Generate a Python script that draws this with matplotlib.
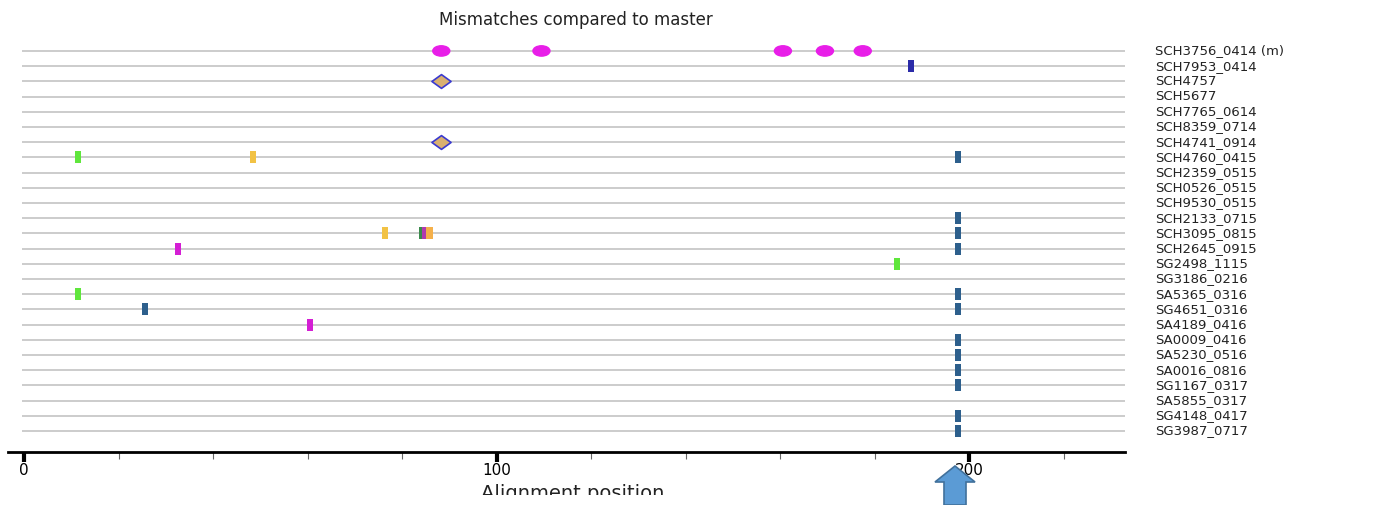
import numpy as np
import matplotlib
matplotlib.use('Agg')
import matplotlib.pyplot as plt
from matplotlib.patches import Ellipse, FancyArrow
from matplotlib.path import Path
from matplotlib.transforms import IdentityTransform, Bbox

# Stammer (rader ovenfra og ned)
strains = ['SCH3756_0414 (m)', 'SCH7953_0414', 'SCH4757', 'SCH5677', 'SCH7765_0614',
           'SCH8359_0714', 'SCH4741_0914', 'SCH4760_0415', 'SCH2359_0515', 'SCH0526_0515',
           'SCH9530_0515', 'SCH2133_0715', 'SCH3095_0815', 'SCH2645_0915', 'SG2498_1115',
           'SG3186_0216', 'SA5365_0316', 'SG4651_0316', 'SA4189_0416', 'SA0009_0416',
           'SA5230_0516', 'SA0016_0816', 'SG1167_0317', 'SA5855_0317', 'SG4148_0417',
           'SG3987_0717']

# Ellipser (master-rad)
ell_row = [0, 0, 0, 0, 0]
ell_pos = [88.3, 109.5, 160.6, 169.5, 177.5]

# Ruter (diamanter)
dia_row = [2, 6]
dia_pos = [88.3, 88.3]

# Streker: (rad, posisjon, farge)
bar_row = [1, 7, 7, 7, 11, 12, 12, 12, 12, 12, 13, 13, 14, 16, 16, 17, 17, 18,
           19, 20, 21, 22, 24, 25]
bar_pos = [187.7, 11.4, 48.5, 197.7, 197.7, 76.3, 84.2, 84.9, 85.8, 197.7, 32.6, 197.7,
           184.7, 11.4, 197.7, 25.6, 197.7, 60.6, 197.7, 197.7, 197.7, 197.7, 197.7, 197.7]
bar_col = ['#2b2ba8', '#5fe63c', '#f2c244', '#2d5f8c', '#2d5f8c', '#f2c244', '#3b8a4c',
           '#b03ab0', '#f5b04a', '#2d5f8c', '#d41ed4', '#2d5f8c', '#5fe63c', '#5fe63c',
           '#2d5f8c', '#2d5f8c', '#2d5f8c', '#d41ed4', '#2d5f8c', '#2d5f8c', '#2d5f8c',
           '#2d5f8c', '#2d5f8c', '#2d5f8c']

W, H = 1385, 505
fig = plt.figure(figsize=(W / 100, H / 100), dpi=100)
ax = fig.add_axes([8 / W, 1 - 452 / H, (1125 - 8) / W, (452 - 40) / H])

n = len(strains)
ax.set_xlim(-3.4, 233)
ax.set_ylim(n + 0.38, -0.72)

# Rader
ax.hlines(np.arange(n), -0.5, 233, color='#c8c8c8', lw=1.3, zorder=1)

# Streker
ax.bar(bar_pos, 0.78, bottom=np.array(bar_row) - 0.39, width=1.3, color=bar_col, zorder=3)

# Ellipser
for r, p in zip(ell_row, ell_pos):
    ax.add_patch(Ellipse((p, r), 3.6, 0.68, color='#e81ee8', zorder=3))

# Diamanter
diamond = Path([(-1, 0), (0, 0.72), (1, 0), (0, -0.72), (-1, 0)],
               [Path.MOVETO, Path.LINETO, Path.LINETO, Path.LINETO, Path.CLOSEPOLY])
ax.scatter(dia_pos, dia_row, marker=diamond, s=190, facecolor='#d9b070',
           edgecolor='#3a3ad0', linewidth=1.2, zorder=3)

# Etiketter til hoyre
for i, s in enumerate(strains):
    fig.text(1155 / W, 1 - (51 + 15.2 * i) / H, s, fontsize=9.5, color='#222222',
             va='center', ha='left')

# Akser
for sp in ['top', 'right', 'left']:
    ax.spines[sp].set_visible(False)
ax.spines['bottom'].set_linewidth(2)
ax.set_yticks([])
ax.set_xticks([0, 100, 200])
ax.set_xticks(np.arange(20, 233, 20), minor=True)
ax.tick_params(axis='x', which='major', length=7, width=3, labelsize=11, pad=1)
ax.tick_params(axis='x', which='minor', length=5, width=0.8, color='#666666')

fig.text(576 / W, 1 - 20 / H, 'Mismatches compared to master', ha='center', va='center',
         fontsize=12, color='#222222')
xl = fig.text(573 / W, 1 - 484 / H, 'Alignment position', ha='center', va='top',
              fontsize=14, color='#222222')
xl.set_clip_box(Bbox([[0, H - 495], [W, H]]))
xl.set_clip_on(True)

# Pil
arr = FancyArrow(955, 0, 0, H - 466, width=22, head_width=40, head_length=16,
                 length_includes_head=True, transform=IdentityTransform(),
                 facecolor='#5b9bd5', edgecolor='#41719c', linewidth=1.2)
fig.patches.append(arr)

fig.savefig('out.png', dpi=100)
